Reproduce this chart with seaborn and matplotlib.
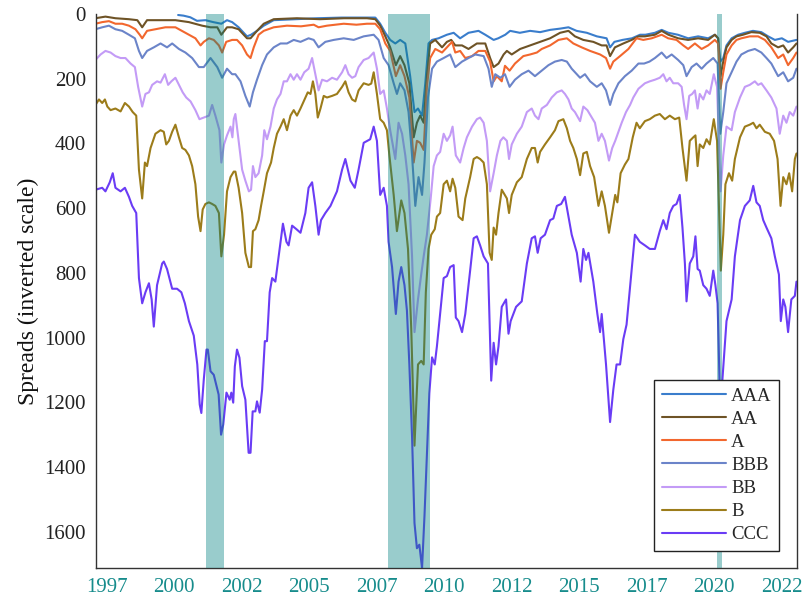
import numpy as np
import pandas as pd
import matplotlib
matplotlib.use("Agg")
import matplotlib.pyplot as plt
from matplotlib.lines import Line2D
import seaborn as sns

# ---- option-adjusted spreads by rating (bp), decimal-year dates ----
ratings = ["AAA", "AA", "A", "BBB", "BB", "B", "CCC"]
colors = ["#3a7dcc", "#6e5326", "#f2672e", "#6b84c9", "#c39bf6", "#9c7c1a", "#6a3cf5"]

aaa_year = [2000.15, 2000.35, 2000.6, 2000.85, 2001.16, 2001.45, 2001.75, 2001.96,
            2002.15, 2002.39, 2002.7, 2002.85, 2003.07, 2003.32, 2003.69, 2004.5, 2005.3, 2006.2,
            2007.14, 2007.45, 2007.63, 2007.82, 2008.0, 2008.19, 2008.37, 2008.56, 2008.74, 2008.9,
            2009.03, 2009.18, 2009.3, 2009.42, 2009.55, 2009.79, 2010.1, 2010.35, 2010.59, 2010.9,
            2011.27, 2011.52, 2011.83, 2012.0, 2012.26, 2012.44, 2012.8, 2013.18, 2013.55, 2013.92,
            2014.3, 2014.6, 2014.9, 2015.28, 2015.65, 2016.01, 2016.14, 2016.3, 2016.6, 2016.95,
            2017.25, 2017.45, 2017.8, 2018.05, 2018.3, 2018.65, 2019.03, 2019.4, 2019.77,
            2020.02, 2020.14, 2020.22, 2020.33, 2020.45, 2020.64, 2020.88, 2021.13, 2021.43, 2021.74,
            2021.99, 2022.24, 2022.5, 2022.73, 2023.04]
aaa_bp = [3, 5, 10, 21, 19, 25, 30, 19,
          25, 41, 69, 64, 52, 36, 19, 16, 13, 11,
          11, 11, 30, 58, 80, 91, 80, 91, 192, 303,
          292, 314, 214, 91, 80, 75, 64, 58, 75, 58,
          52, 64, 80, 75, 64, 52, 58, 52, 56, 49,
          45, 41, 52, 58, 69, 75, 103, 86, 80, 75,
          64, 64, 58, 49, 58, 64, 75, 69, 75,
          64, 75, 147, 136, 97, 75, 64, 58, 52, 56,
          69, 80, 75, 86, 80]

aa_year = [1997.09, 1997.46, 1997.83, 1998.33, 1998.64, 1998.82, 1999.0, 1999.56,
           2000.05, 2000.55, 2001.04, 2001.35, 2001.6, 2001.75, 2001.96,
           2002.15, 2002.39, 2002.7, 2002.83, 2003.07, 2003.32, 2003.69, 2004.55, 2005.4, 2006.3,
           2007.14, 2007.45, 2007.63, 2007.82, 2008.0, 2008.21, 2008.37, 2008.53, 2008.71, 2008.87,
           2008.99, 2009.11, 2009.24, 2009.36, 2009.48, 2009.67, 2009.92,
           2010.1, 2010.26, 2010.41, 2010.66, 2010.9, 2011.21, 2011.52, 2011.7, 2011.83,
           2012.01, 2012.2, 2012.32, 2012.5, 2012.81, 2013.18, 2013.55, 2013.92, 2014.29, 2014.6,
           2014.84, 2015.15, 2015.52, 2015.83, 2016.01, 2016.14, 2016.32, 2016.63, 2016.94,
           2017.19, 2017.43, 2017.8, 2018.05, 2018.3, 2018.66, 2019.03, 2019.4, 2019.77,
           2020.02, 2020.14, 2020.23, 2020.33, 2020.45, 2020.64, 2020.82, 2021.06, 2021.37, 2021.68,
           2021.93, 2022.11, 2022.36, 2022.55, 2022.73, 2022.92, 2023.04]
aa_bp = [13, 8, 13, 16, 19, 41, 19, 19,
         19, 25, 36, 41, 41, 64, 41,
         41, 47, 75, 75, 52, 30, 16, 13, 16, 13,
         13, 16, 36, 69, 103, 158, 130, 158, 214, 381,
         336, 314, 336, 192, 91, 80, 103,
         86, 80, 97, 97, 108, 91, 91, 136, 164,
         153, 125, 114, 125, 108, 97, 86, 75, 58, 52,
         69, 80, 86, 97, 97, 130, 103, 91, 80,
         69, 69, 64, 52, 64, 75, 80, 75, 80,
         64, 75, 192, 147, 103, 80, 69, 64, 56, 58,
         69, 91, 103, 97, 119, 103, 91]

a_year = [1997.09, 1997.34, 1997.59, 1997.83, 1998.08, 1998.33, 1998.57, 1998.73, 1998.82,
          1999.0, 1999.31, 1999.68, 2000.05, 2000.42, 2000.79, 2000.98,
          2001.1, 2001.29, 2001.47, 2001.66, 2001.78, 2001.93,
          2002.15, 2002.33, 2002.52, 2002.7, 2002.83, 2002.95, 2003.13, 2003.32, 2003.69,
          2004.18, 2004.7, 2005.17, 2005.35, 2005.66, 2006.28, 2006.75,
          2007.14, 2007.45, 2007.63, 2007.82, 2008.0, 2008.21, 2008.37, 2008.53, 2008.71, 2008.87,
          2008.99, 2009.11, 2009.24, 2009.36, 2009.48, 2009.67, 2009.92,
          2010.1, 2010.29, 2010.41, 2010.59, 2010.78, 2011.03, 2011.27, 2011.52, 2011.7, 2011.83, 2011.95,
          2012.13, 2012.25, 2012.42, 2012.62, 2012.93, 2013.18, 2013.43, 2013.61, 2013.92,
          2014.23, 2014.54, 2014.78, 2015.09, 2015.4, 2015.77, 2015.99,
          2016.14, 2016.26, 2016.51, 2016.82, 2017.12, 2017.37, 2017.68,
          2018.05, 2018.29, 2018.6, 2018.85, 2019.03, 2019.28, 2019.53, 2019.77,
          2020.02, 2020.14, 2020.23, 2020.33, 2020.45, 2020.64, 2020.82,
          2021.0, 2021.31, 2021.62, 2021.87, 2022.11, 2022.36, 2022.55, 2022.73, 2022.92, 2023.04]
a_bp = [30, 25, 22, 30, 30, 36, 47, 64, 75,
        52, 47, 41, 41, 58, 75, 97,
        86, 75, 80, 97, 119, 86,
        80, 80, 97, 125, 136, 103, 64, 52, 41,
        36, 38, 33, 41, 36, 30, 33,
        30, 30, 47, 91, 114, 192, 158, 192, 258, 459,
        392, 398, 420, 225, 136, 108, 119,
        103, 86, 119, 114, 136, 130, 114, 114, 147, 208, 192,
        208, 160, 175, 153, 130, 125, 119, 108, 97,
        80, 75, 91, 103, 114, 125, 136,
        169, 147, 130, 108, 75, 80, 75,
        64, 75, 80, 97, 108, 91, 108, 97,
        80, 91, 231, 180, 125, 97, 80,
        75, 69, 69, 80, 103, 136, 125, 158, 136, 119]

bbb_year = [1997.09, 1997.34, 1997.59, 1997.83, 1998.08, 1998.33, 1998.55, 1998.7, 1998.82,
            1999.0, 1999.25, 1999.5, 1999.74, 1999.93, 2000.18, 2000.42, 2000.67, 2000.92,
            2001.1, 2001.35, 2001.6, 2001.78, 2001.96,
            2002.15, 2002.27, 2002.46, 2002.64, 2002.8, 2002.92, 2003.07, 2003.26, 2003.44, 2003.69, 2003.94,
            2004.18, 2004.43, 2004.68, 2004.98, 2005.17, 2005.35, 2005.6, 2005.91, 2006.28, 2006.65,
            2007.02, 2007.39, 2007.57, 2007.76, 2007.94, 2008.13, 2008.25, 2008.37, 2008.53, 2008.68, 2008.81, 2008.93,
            2009.05, 2009.18, 2009.27, 2009.4, 2009.55, 2009.73, 2009.98,
            2010.22, 2010.41, 2010.66, 2010.9, 2011.15, 2011.46, 2011.64, 2011.76, 2011.89,
            2012.08, 2012.25, 2012.42, 2012.62, 2012.87, 2013.12, 2013.36, 2013.61, 2013.86,
            2014.1, 2014.35, 2014.54, 2014.72, 2015.03, 2015.21, 2015.4, 2015.65, 2015.83, 2015.99,
            2016.14, 2016.26, 2016.45, 2016.69, 2016.94, 2017.19, 2017.4, 2017.6, 2017.8,
            2018.05, 2018.23, 2018.42, 2018.66, 2018.85, 2018.97, 2019.16, 2019.34, 2019.53, 2019.71, 2019.96,
            2020.12, 2020.22, 2020.33, 2020.45, 2020.64, 2020.82,
            2021.0, 2021.25, 2021.5, 2021.74, 2021.93, 2022.11, 2022.36, 2022.55, 2022.73, 2022.92, 2023.04]
bbb_bp = [47, 41, 36, 47, 52, 64, 75, 114, 136,
          114, 103, 91, 103, 91, 108, 119, 136, 164,
          164, 136, 164, 197, 169,
          186, 186, 208, 253, 286, 242, 203, 158, 125, 103, 91,
          91, 80, 86, 75, 80, 103, 86, 80, 75, 80,
          69, 64, 80, 136, 158, 214, 247, 214, 236, 303, 437, 593,
          504, 559, 459, 258, 169, 147, 136,
          125, 164, 147, 136, 125, 130, 169, 225, 186,
          197, 186, 225, 203, 186, 175, 192, 175, 158,
          147, 142, 147, 169, 197, 186, 208, 225, 214, 236,
          281, 247, 214, 192, 175, 153, 153, 147, 136,
          119, 136, 125, 142, 158, 192, 164, 153, 169, 153, 136,
          153, 370, 303, 214, 180, 147,
          125, 114, 108, 119, 136, 153, 192, 180, 208, 197, 169]

bb_year = [1997.09, 1997.28, 1997.46, 1997.65, 1997.83,
           1998.02, 1998.2, 1998.39, 1998.55, 1998.67, 1998.82, 1998.94,
           1999.07, 1999.19, 1999.37, 1999.5, 1999.66, 1999.78, 1999.9,
           2000.05, 2000.18, 2000.32, 2000.45, 2000.61, 2000.79, 2000.94,
           2001.1, 2001.29, 2001.41, 2001.53, 2001.68, 2001.75, 2001.85, 2001.96,
           2002.09, 2002.16, 2002.21, 2002.27, 2002.39, 2002.52, 2002.64, 2002.77, 2002.85, 2002.92,
           2003.01, 2003.13, 2003.26, 2003.34, 2003.44, 2003.57, 2003.69, 2003.81, 2003.94,
           2004.06, 2004.18, 2004.31, 2004.43, 2004.55, 2004.68, 2004.82, 2004.98,
           2005.11, 2005.23, 2005.35, 2005.48, 2005.66, 2005.85,
           2006.03, 2006.22, 2006.34, 2006.46, 2006.59, 2006.71, 2006.83,
           2007.02, 2007.2, 2007.39, 2007.51, 2007.63, 2007.76, 2007.88,
           2008.0, 2008.19, 2008.31, 2008.44, 2008.56, 2008.68, 2008.81, 2008.9,
           2009.03, 2009.15, 2009.24, 2009.36, 2009.5, 2009.61, 2009.73, 2009.85, 2009.98,
           2010.1, 2010.22, 2010.31, 2010.43, 2010.59, 2010.72, 2010.84,
           2011.03, 2011.21, 2011.33, 2011.46, 2011.58, 2011.7, 2011.83, 2011.95,
           2012.08, 2012.19, 2012.32, 2012.4, 2012.5, 2012.69, 2012.87,
           2013.06, 2013.24, 2013.36, 2013.49, 2013.61, 2013.8, 2013.98,
           2014.17, 2014.35, 2014.47, 2014.6, 2014.72, 2014.84,
           2015.03, 2015.15, 2015.3, 2015.42, 2015.58, 2015.71, 2015.83, 2015.95,
           2016.1, 2016.22, 2016.33, 2016.45, 2016.57, 2016.73, 2016.88,
           2017.0, 2017.19, 2017.43, 2017.61, 2017.8, 2017.98,
           2018.11, 2018.23, 2018.35, 2018.48, 2018.66, 2018.79, 2018.88, 2018.97,
           2019.07, 2019.18, 2019.28, 2019.38, 2019.46, 2019.59, 2019.71, 2019.83, 2019.98,
           2020.1, 2020.23, 2020.33, 2020.45, 2020.64, 2020.76, 2020.95,
           2021.13, 2021.31, 2021.5, 2021.62, 2021.74, 2021.93,
           2022.11, 2022.3, 2022.42, 2022.55, 2022.67, 2022.79, 2022.92, 2023.04]
bb_bp = [142, 125, 114, 119, 130,
         136, 136, 153, 164, 225, 286, 247,
         242, 219, 208, 212, 186, 219, 208,
         197, 219, 242, 258, 270, 297, 325,
         320, 314, 281, 314, 359, 459, 403, 375,
         348, 381, 325, 309, 392, 481, 515, 548, 543, 470,
         504, 492, 437, 359, 387, 348, 292, 264, 247,
         208, 208, 186, 203, 186, 203, 180, 169,
         136, 186, 236, 203, 208, 197,
         203, 180, 158, 186, 197, 192, 164,
         142, 136, 119, 169, 247, 236, 292,
         359, 448, 336, 370, 437, 526, 749, 983,
         882, 804, 749, 682, 570, 470, 437, 426, 370,
         392, 375, 348, 437, 459, 414, 381,
         348, 325, 320, 336, 392, 548, 492, 437,
         392, 381, 392, 448, 403, 370, 348,
         303, 292, 314, 325, 292, 281, 258,
         242, 236, 247, 264, 292, 303,
         331, 286, 297, 314, 336, 392, 370, 392,
         453, 414, 392, 364, 336, 303, 281,
         258, 231, 214, 208, 203, 197,
         186, 208, 197, 214, 214, 225, 281, 325,
         253, 247, 236, 292, 247, 264, 236, 247, 186,
         225, 548, 437, 348, 359, 303, 258,
         225, 219, 208, 219, 214, 236,
         258, 292, 370, 314, 336, 303, 314, 286]

b_year = [1997.09, 1997.22, 1997.34, 1997.44, 1997.53, 1997.65, 1997.83,
          1998.02, 1998.18, 1998.33, 1998.47, 1998.6, 1998.7, 1998.82, 1998.92,
          1999.0, 1999.13, 1999.31, 1999.5, 1999.62, 1999.71, 1999.81, 1999.93,
          2000.05, 2000.18, 2000.3, 2000.42, 2000.55, 2000.67, 2000.79, 2000.89, 2000.98,
          2001.06, 2001.16, 2001.29, 2001.41, 2001.53, 2001.66, 2001.75, 2001.85, 2001.96,
          2002.09, 2002.21, 2002.27, 2002.39, 2002.52, 2002.64, 2002.77, 2002.85, 2002.92,
          2003.01, 2003.13, 2003.22, 2003.32, 2003.44, 2003.59, 2003.69, 2003.81, 2003.94,
          2004.06, 2004.18, 2004.31, 2004.43, 2004.55, 2004.68, 2004.8, 2004.95,
          2005.05, 2005.14, 2005.23, 2005.32, 2005.42, 2005.54, 2005.66, 2005.85,
          2006.03, 2006.22, 2006.34, 2006.46, 2006.59, 2006.71, 2006.83,
          2007.02, 2007.2, 2007.3, 2007.39, 2007.51, 2007.63, 2007.76, 2007.88, 2007.97,
          2008.13, 2008.25, 2008.41, 2008.53, 2008.66, 2008.78, 2008.9,
          2009.03, 2009.15, 2009.24, 2009.32, 2009.42, 2009.52, 2009.65, 2009.73, 2009.85, 2009.98,
          2010.1, 2010.22, 2010.31, 2010.41, 2010.53, 2010.68, 2010.78, 2010.96,
          2011.09, 2011.21, 2011.33, 2011.46, 2011.58, 2011.68, 2011.76, 2011.83, 2011.92,
          2012.01, 2012.13, 2012.32, 2012.4, 2012.5, 2012.69, 2012.87,
          2013.06, 2013.24, 2013.36, 2013.46, 2013.55, 2013.73, 2013.92,
          2014.1, 2014.23, 2014.41, 2014.54, 2014.66, 2014.78, 2014.91,
          2015.03, 2015.15, 2015.28, 2015.4, 2015.55, 2015.71, 2015.83, 2015.95,
          2016.1, 2016.22, 2016.33, 2016.41, 2016.53, 2016.69, 2016.82, 2016.98,
          2017.12, 2017.24, 2017.43, 2017.61, 2017.8, 2017.98,
          2018.17, 2018.35, 2018.54, 2018.7, 2018.82, 2018.97,
          2019.09, 2019.22, 2019.3, 2019.38, 2019.46, 2019.59, 2019.71, 2019.83, 2019.98,
          2020.1, 2020.24, 2020.33, 2020.41, 2020.54, 2020.66, 2020.76, 2020.95,
          2021.13, 2021.31, 2021.44, 2021.56, 2021.68, 2021.87,
          2022.05, 2022.21, 2022.34, 2022.45, 2022.55, 2022.67, 2022.77, 2022.88, 2022.98, 2023.04]
b_bp = [281, 264, 275, 264, 286, 297, 292,
        301, 275, 286, 303, 314, 481, 570, 459,
        470, 414, 370, 359, 364, 403, 392, 364,
        342, 381, 414, 420, 437, 470, 526, 626, 671,
        604, 587, 582, 587, 593, 615, 749, 682, 548,
        504, 487, 487, 537, 615, 738, 782, 782, 671,
        665, 637, 593, 548, 492, 459, 414, 370, 348,
        325, 359, 314, 297, 314, 292, 270, 242,
        247, 208, 247, 320, 292, 253, 258, 253,
        247, 225, 208, 242, 264, 270, 236,
        214, 219, 215, 180, 247, 325, 336, 359, 437,
        559, 671, 576, 615, 726, 972, 1334,
        1083, 1072, 1083, 860, 726, 682, 665, 626, 615, 526,
        515, 548, 509, 537, 626, 637, 570, 504,
        448, 442, 448, 459, 526, 738, 760, 660, 682,
        615, 543, 570, 615, 559, 520, 504,
        448, 414, 414, 459, 426, 403, 381,
        359, 331, 325, 353, 392, 414, 448,
        498, 431, 426, 470, 504, 593, 548, 593,
        676, 615, 559, 582, 492, 465, 448, 381,
        336, 353, 331, 325, 314, 309,
        325, 314, 325, 320, 414, 515,
        392, 381, 375, 470, 403, 414, 387, 403, 325,
        392, 793, 682, 526, 492, 515, 448, 381,
        348, 342, 336, 353, 342, 364,
        370, 392, 448, 593, 504, 526, 492, 548, 448, 431]

ccc_year = [1997.09, 1997.34, 1997.46, 1997.62, 1997.73, 1997.83,
            1998.02, 1998.18, 1998.33, 1998.45, 1998.6, 1998.7, 1998.82, 1998.94,
            1999.07, 1999.17, 1999.25, 1999.37, 1999.56, 1999.62, 1999.74, 1999.93,
            2000.11, 2000.27, 2000.4, 2000.55, 2000.73, 2000.86, 2000.95,
            2001.01, 2001.1, 2001.2, 2001.25, 2001.35, 2001.47, 2001.65, 2001.74, 2001.82, 2001.94,
            2002.06, 2002.12, 2002.19, 2002.25, 2002.33, 2002.42, 2002.52, 2002.64, 2002.76, 2002.83, 2002.91,
            2003.01, 2003.07, 2003.17, 2003.26, 2003.36, 2003.44, 2003.54, 2003.63, 2003.75, 2003.91,
            2004.03, 2004.16, 2004.24, 2004.37, 2004.53, 2004.68, 2004.86, 2004.98,
            2005.11, 2005.23, 2005.35, 2005.44, 2005.6, 2005.79,
            2006.03, 2006.22, 2006.34, 2006.53, 2006.69, 2006.83,
            2007.02, 2007.26, 2007.39, 2007.51, 2007.63, 2007.76, 2007.88, 2007.94,
            2008.07, 2008.21, 2008.31, 2008.41, 2008.53, 2008.62, 2008.71, 2008.81, 2008.9, 2008.99,
            2009.08, 2009.18, 2009.27, 2009.36, 2009.45, 2009.55, 2009.65, 2009.73, 2009.85, 2009.98,
            2010.1, 2010.22, 2010.35, 2010.43, 2010.53, 2010.66, 2010.78, 2010.96,
            2011.09, 2011.21, 2011.33, 2011.46, 2011.62, 2011.74, 2011.83, 2011.92,
            2012.01, 2012.13, 2012.29, 2012.38, 2012.46, 2012.66, 2012.87,
            2013.06, 2013.24, 2013.36, 2013.46, 2013.57, 2013.73, 2013.92,
            2014.04, 2014.17, 2014.33, 2014.47, 2014.6, 2014.72, 2014.91,
            2015.05, 2015.15, 2015.25, 2015.34, 2015.52, 2015.67, 2015.77, 2015.83, 2015.99,
            2016.14, 2016.26, 2016.38, 2016.51, 2016.63, 2016.75, 2016.91,
            2017.06, 2017.24, 2017.43, 2017.61, 2017.8, 2017.98,
            2018.11, 2018.23, 2018.35, 2018.48, 2018.6, 2018.72, 2018.82, 2018.91, 2018.97,
            2019.09, 2019.22, 2019.3, 2019.38, 2019.46, 2019.59, 2019.71, 2019.83, 2019.96,
            2020.04, 2020.12, 2020.19, 2020.24, 2020.29, 2020.45, 2020.64, 2020.76, 2020.95,
            2021.13, 2021.31, 2021.44, 2021.56, 2021.68, 2021.81, 2021.93,
            2022.11, 2022.24, 2022.39, 2022.46, 2022.55, 2022.63, 2022.73, 2022.85, 2022.98, 2023.04]
ccc_bp = [543, 537, 548, 520, 492, 537,
          548, 537, 565, 593, 615, 816, 894, 860,
          832, 882, 966, 838, 771, 765, 788, 849,
          849, 860, 894, 949, 994, 1083, 1207,
          1233, 1130, 1037, 1037, 1104, 1115, 1176, 1300, 1269, 1170,
          1192, 1170, 1201, 1089, 1037, 1062, 1150, 1192, 1356, 1356, 1228,
          1228, 1197, 1232, 1161, 1011, 1011, 860, 816, 827, 726,
          648, 704, 715, 654, 665, 676, 615, 537,
          520, 593, 682, 637, 615, 593,
          548, 481, 448, 515, 537, 481,
          398, 387, 348, 392, 559, 537, 593, 704,
          782, 927, 827, 782, 838, 916, 1083, 1306, 1573, 1651,
          1640, 1712, 1551, 1362, 1172, 1061, 1083, 1027, 927, 816,
          810, 782, 776, 938, 949, 983, 927, 793,
          693, 687, 715, 749, 771, 1133, 1016, 1083,
          1027, 905, 882, 988, 949, 905, 888,
          771, 693, 687, 738, 693, 682, 637,
          632, 593, 587, 565, 626, 682, 738,
          827, 726, 760, 738, 827, 927, 983, 927, 1083,
          1261, 1161, 1083, 1083, 1005, 960, 816,
          682, 704, 715, 726, 726, 671,
          637, 665, 615, 593, 587, 559, 660, 771, 888,
          771, 749, 687, 788, 793, 838, 849, 871, 793,
          838, 894, 1128, 1600, 1140, 949, 882, 749, 637,
          593, 576, 531, 582, 593, 637, 660,
          693, 749, 805, 949, 882, 905, 983, 882, 871, 827]

# NBER recession periods
rec_start = [2001.20, 2007.93, 2020.09]
rec_end = [2001.86, 2009.48, 2020.29]

# x ticks every 2.5 years, labelled with the calendar year
xtick_pos = [1997.5, 2000.0, 2002.5, 2005.0, 2007.5, 2010.0, 2012.5, 2015.0, 2017.5, 2020.0, 2022.5]
xtick_labels = ["1997", "2000", "2002", "2005", "2007", "2010", "2012", "2015", "2017", "2020", "2022"]
ytick_pos = [0, 200, 400, 600, 800, 1000, 1200, 1400, 1600]

series = {
    "AAA": (aaa_year, aaa_bp), "AA": (aa_year, aa_bp), "A": (a_year, a_bp),
    "BBB": (bbb_year, bbb_bp), "BB": (bb_year, bb_bp), "B": (b_year, b_bp),
    "CCC": (ccc_year, ccc_bp),
}
frames = []
for name in ratings:
    yrs, vals = series[name]
    frames.append(pd.DataFrame({"year": yrs, "spread": vals, "rating": name}))
df = pd.concat(frames, ignore_index=True)

# ---- style ----
sns.set_theme(style="white")
plt.rcParams["font.family"] = ["Liberation Serif", "DejaVu Serif"]
teal = "#178c8c"

fig = plt.figure(figsize=(8.03, 6.02), dpi=100)
ax = fig.add_axes([0.1192, 0.0565, 0.873, 0.9202])

sns.lineplot(data=df, x="year", y="spread", hue="rating", hue_order=ratings,
             palette=dict(zip(ratings, colors)), estimator=None, sort=False,
             linewidth=1.5, legend=False, ax=ax)

for s, e in zip(rec_start, rec_end):
    ax.axvspan(s, e, color="teal", alpha=0.4, lw=0, zorder=3)

ax.set_xlim(1997.1, 2023.05)
ax.set_ylim(max(ccc_bp), 0)

ax.set_xticks(xtick_pos)
ax.set_xticklabels(xtick_labels)
ax.set_yticks(ytick_pos)
ax.tick_params(axis="x", direction="in", length=5, width=1, colors=teal,
               labelsize=15, pad=7)
ax.tick_params(axis="y", direction="in", length=5, width=1, color="#333333",
               labelcolor="#222222", labelsize=15, pad=7)

ax.set_xlabel("")
ax.set_ylabel("Spreads (inverted scale)", fontsize=17, color="#111111", labelpad=4)

for side in ["left", "bottom", "right"]:
    ax.spines[side].set_visible(True)
    ax.spines[side].set_color("#333333")
    ax.spines[side].set_linewidth(1.0)
ax.spines["top"].set_visible(False)

handles = [Line2D([0], [0], color=c, lw=1.5) for c in colors]
leg = ax.legend(handles, ratings, loc="lower right", bbox_to_anchor=(0.975, 0.031),
                borderaxespad=0, frameon=True, fancybox=False, framealpha=1,
                edgecolor="#222222", fontsize=13.5, handlelength=3.4,
                handletextpad=0.3, labelspacing=0.32, borderpad=0.4)
leg.get_frame().set_linewidth(1.0)
leg.set_zorder(10)

fig.savefig("out.png", dpi=100)
